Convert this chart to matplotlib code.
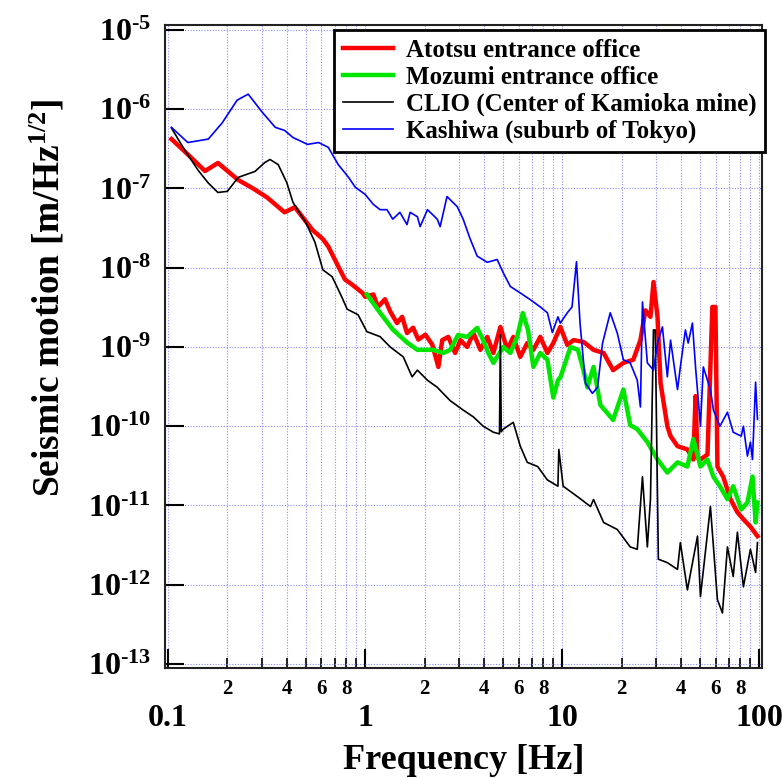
import matplotlib
matplotlib.use("Agg")
import matplotlib.pyplot as plt
from matplotlib.ticker import FixedLocator, FixedFormatter, NullLocator

plt.rcParams["font.family"] = "Liberation Serif"
plt.rcParams["font.weight"] = "bold"
plt.rcParams["mathtext.fontset"] = "custom"
plt.rcParams["mathtext.rm"] = "Liberation Serif:bold"
plt.rcParams["mathtext.bf"] = "Liberation Serif:bold"
plt.rcParams["mathtext.it"] = "Liberation Serif:bold"

# (frequency [Hz], amplitude [m/Hz^1/2])
atotsu = [
    (0.104, 4.2e-7), (0.122, 2.9e-7), (0.154, 1.66e-7), (0.179, 2.1e-7),
    (0.227, 1.28e-7), (0.27, 1.0e-7), (0.318, 7.7e-8), (0.39, 5.0e-8),
    (0.44, 5.8e-8), (0.54, 3.0e-8), (0.61, 2.3e-8), (0.65, 1.85e-8),
    (0.73, 1.04e-8), (0.79, 7.1e-9), (0.86, 6.1e-9), (0.97, 4.8e-9),
    (1.0, 4.3e-9), (1.1, 4.6e-9), (1.16, 3.2e-9), (1.26, 4.0e-9),
    (1.34, 2.8e-9), (1.45, 2.0e-9), (1.54, 2.4e-9), (1.63, 1.5e-9),
    (1.75, 1.75e-9), (1.86, 1.24e-9), (2.02, 1.43e-9), (2.19, 1.07e-9),
    (2.35, 5.6e-10), (2.46, 1.22e-9), (2.64, 1.34e-9), (2.86, 8.4e-10),
    (3.04, 1.22e-9), (3.29, 1.0e-9), (3.54, 1.5e-9), (3.84, 9.2e-10),
    (4.16, 1.34e-9), (4.47, 8.4e-10), (4.85, 1.79e-9), (5.26, 9.2e-10),
    (5.64, 1.34e-9), (6.12, 7.5e-10), (6.64, 1.12e-9), (7.13, 9.2e-10),
    (7.73, 1.34e-9), (8.4, 8.4e-10), (9.0, 1.12e-9), (9.77, 1.79e-9),
    (10.6, 1.06e-9), (11.4, 1.22e-9), (12.8, 1.16e-9), (14.4, 9.2e-10),
    (16.2, 8.4e-10), (18.1, 5.1e-10), (20.4, 6.3e-10), (22.9, 6.9e-10),
    (24.9, 1.22e-9), (26.4, 2.9e-9), (28.0, 2.4e-9), (29.0, 6.6e-9),
    (30.4, 2.4e-9), (31.5, 3.5e-10), (34.1, 1.0e-10), (35.4, 7.5e-11),
    (38.4, 5.6e-11), (43.1, 5.1e-11), (46.2, 3.8e-11), (47.4, 2.4e-10),
    (48.5, 4.0e-11), (50.2, 3.8e-11), (54.5, 4.4e-11), (57.7, 3.2e-9),
    (59.8, 3.2e-9), (61.2, 3.1e-11), (65.5, 2.3e-11), (71.3, 1.2e-11),
    (77.3, 8.2e-12), (82.9, 6.7e-12), (90.0, 5.4e-12), (97.7, 4.1e-12),
]

mozumi = [
    (1.02, 4.6e-9), (1.19, 2.7e-9), (1.38, 1.66e-9), (1.63, 1.14e-9),
    (1.84, 9.2e-10), (2.21, 9.2e-10), (2.49, 8.4e-10), (2.7, 9.2e-10),
    (2.96, 1.42e-9), (3.29, 1.34e-9), (3.7, 1.74e-9), (3.97, 1.22e-9),
    (4.21, 8.4e-10), (4.47, 6.3e-10), (5.02, 1.0e-9), (5.45, 8.4e-10),
    (5.9, 1.34e-9), (6.3, 2.68e-9), (6.7, 1.64e-9), (7.13, 5.6e-10),
    (7.73, 8.4e-10), (8.4, 6.9e-10), (9.0, 2.3e-10), (9.5, 3.8e-10),
    (9.8, 4.2e-10), (11.0, 1.0e-9), (12.0, 9.2e-10), (12.8, 5.1e-10),
    (13.4, 3.1e-10), (14.4, 5.6e-10), (15.6, 1.85e-10), (16.9, 1.47e-10),
    (18.1, 1.2e-10), (20.4, 2.9e-10), (22.1, 1.03e-10), (24.0, 9.2e-11),
    (27.0, 6.3e-11), (30.4, 3.8e-11), (34.1, 2.6e-11), (38.4, 3.5e-11),
    (43.1, 3.1e-11), (46.2, 6.9e-11), (50.2, 3.1e-11), (54.5, 3.8e-11),
    (58.4, 2.3e-11), (63.0, 1.75e-11), (68.8, 1.2e-11), (73.6, 1.75e-11),
    (80.8, 8.9e-12), (86.9, 1.09e-11), (92.2, 2.32e-11), (95.6, 6.1e-12),
    (97.7, 1.09e-11),
]

clio = [
    (0.104, 5.8e-7), (0.122, 3.0e-7), (0.142, 1.7e-7), (0.16, 1.17e-7),
    (0.179, 8.9e-8), (0.20, 9.2e-8), (0.227, 1.38e-7), (0.276, 1.64e-7),
    (0.31, 2.13e-7), (0.329, 2.32e-7), (0.362, 2.0e-7), (0.40, 1.19e-7),
    (0.43, 6.7e-8), (0.50, 3.7e-8), (0.556, 2.1e-8), (0.61, 9.4e-9),
    (0.68, 7.7e-9), (0.76, 4.3e-9), (0.81, 3.0e-9), (0.92, 2.55e-9),
    (1.02, 1.56e-9), (1.19, 1.35e-9), (1.34, 1.0e-9), (1.56, 7.5e-10),
    (1.73, 4.2e-10), (1.84, 5.1e-10), (2.07, 3.8e-10), (2.32, 3.1e-10),
    (2.7, 2.1e-10), (3.14, 1.6e-10), (3.54, 1.31e-10), (3.97, 1.0e-10),
    (4.47, 8.4e-11), (4.8, 8.0e-11), (4.85, 1.42e-9), (4.9, 8.5e-11),
    (5.02, 9.2e-11), (5.64, 1.12e-10), (6.12, 5.6e-11), (6.64, 3.5e-11),
    (7.5, 3.1e-11), (8.4, 2.1e-11), (9.5, 1.75e-11), (9.6, 5.1e-11),
    (10.1, 1.75e-11), (11.9, 1.3e-11), (13.9, 9.7e-12), (14.4, 1.19e-11),
    (16.2, 6.1e-12), (19.0, 4.98e-12), (22.1, 3.0e-12), (24.0, 2.8e-12),
    (25.5, 2.3e-11), (27.0, 3.0e-12), (28.0, 1.2e-11), (29.0, 1.64e-9),
    (29.6, 1.64e-9), (30.7, 2.1e-12), (34.1, 1.9e-12), (38.4, 1.56e-12),
    (39.7, 3.4e-12), (43.1, 8.6e-13), (48.5, 4.1e-12), (50.2, 7.1e-13),
    (56.4, 9.7e-12), (61.2, 6.5e-13), (64.9, 4.4e-13), (68.8, 3.0e-12),
    (73.6, 1.27e-12), (77.3, 4.6e-12), (82.9, 9.4e-13), (90.0, 2.8e-12),
    (95.6, 1.43e-12), (97.7, 3.4e-12),
]

kashiwa = [
    (0.104, 5.9e-7), (0.126, 3.8e-7), (0.16, 4.2e-7), (0.188, 6.7e-7),
    (0.224, 1.3e-6), (0.255, 1.55e-6), (0.30, 9.2e-7), (0.35, 5.9e-7),
    (0.39, 5.4e-7), (0.43, 4.4e-7), (0.51, 3.6e-7), (0.58, 3.8e-7),
    (0.65, 3.3e-7), (0.73, 2.0e-7), (0.82, 1.4e-7), (0.89, 1.04e-7),
    (1.0, 8.4e-8), (1.1, 6.3e-8), (1.19, 5.4e-8), (1.29, 5.4e-8),
    (1.38, 4.1e-8), (1.5, 5.0e-8), (1.63, 3.5e-8), (1.69, 5.0e-8),
    (1.84, 4.4e-8), (1.9, 3.3e-8), (2.07, 5.4e-8), (2.32, 4.1e-8),
    (2.4, 3.3e-8), (2.6, 7.9e-8), (2.93, 5.9e-8), (3.14, 4.1e-8),
    (3.41, 2.3e-8), (3.7, 1.4e-8), (4.16, 1.17e-8), (4.67, 1.27e-8),
    (5.02, 8.6e-9), (5.45, 5.8e-9), (6.12, 4.8e-9), (6.88, 3.95e-9),
    (7.73, 3.2e-9), (8.4, 2.7e-9), (8.9, 1.52e-9), (9.5, 2.4e-9),
    (9.77, 2.0e-9), (10.6, 2.7e-9), (11.2, 3.2e-9), (11.8, 1.19e-8),
    (12.3, 2.0e-9), (13.1, 3.5e-10), (14.2, 2.6e-10), (15.1, 3.1e-10),
    (16.0, 1.12e-9), (17.5, 2.7e-9), (19.0, 1.5e-9), (20.4, 6.9e-10),
    (22.1, 6.3e-10), (24.0, 3.8e-10), (24.9, 1.75e-10), (25.5, 3.7e-9),
    (27.0, 6.3e-10), (29.0, 5.1e-10), (30.4, 1.12e-9), (32.2, 1.79e-9),
    (34.1, 4.2e-10), (35.4, 1.22e-9), (38.4, 2.9e-10), (39.7, 5.6e-10),
    (42.1, 1.64e-9), (43.5, 1.12e-9), (45.7, 2.0e-9), (47.4, 5.6e-10),
    (50.2, 1.0e-10), (51.9, 5.6e-10), (56.4, 2.9e-10), (58.4, 1.6e-10),
    (63.0, 1.0e-10), (68.8, 1.5e-10), (73.6, 8.4e-11), (80.8, 7.5e-11),
    (82.9, 1.0e-10), (86.9, 4.2e-11), (90.0, 6.3e-11), (92.2, 3.8e-11),
    (95.6, 3.6e-10), (97.7, 1.22e-10),
]

x_major = [0.1, 1, 10, 100]
x_major_labels = ["0.1", "1", "10", "100"]
x_minor = [m * d for d in (0.1, 1, 10) for m in range(2, 10)]
x_minor_labels = [str(m) if m in (2, 4, 6, 8) else "" for d in (0.1, 1, 10) for m in range(2, 10)]
y_major = [10.0 ** e for e in range(-13, -4)]
# plain hyphen in the exponent, as in the original figure
y_major_labels = ["$10^{\u2010%d}$" % -e for e in range(-13, -4)]

fig = plt.figure(figsize=(7.82, 7.78), dpi=100)
ax = fig.add_axes([0.211, 0.1414, 0.7634, 0.8265])

ax.plot(*zip(*atotsu), color="#ff0000", lw=3.2, label="Atotsu entrance office")
ax.plot(*zip(*mozumi), color="#00e600", lw=3.2, label="Mozumi entrance office")
ax.plot(*zip(*clio), color="black", lw=1.2, label="CLIO (Center of Kamioka mine)")
ax.plot(*zip(*kashiwa), color="#0000ff", lw=1.2, label="Kashiwa (suburb of Tokyo)")

ax.set_xscale("log")
ax.set_yscale("log")
ax.set_xlim(0.0965, 103)
ax.set_ylim(0.89e-13, 1.156e-5)

ax.xaxis.set_major_locator(FixedLocator(x_major))
ax.xaxis.set_major_formatter(FixedFormatter(x_major_labels))
ax.xaxis.set_minor_locator(FixedLocator(x_minor))
ax.xaxis.set_minor_formatter(FixedFormatter(x_minor_labels))
ax.yaxis.set_major_locator(FixedLocator(y_major))
ax.yaxis.set_major_formatter(FixedFormatter(y_major_labels))
ax.yaxis.set_minor_locator(NullLocator())

ax.tick_params(which="major", direction="in", length=14, width=1.5, labelsize=23)
ax.tick_params(axis="x", which="major", pad=26)
ax.tick_params(axis="y", which="major", pad=10)
ax.tick_params(axis="x", which="minor", direction="in", length=7, width=1.2,
               labelsize=15, pad=8)

gkw = dict(color="#8c8cff", linestyle=(0, (1, 1.5)), linewidth=0.8)
ax.grid(True, which="both", axis="x", **gkw)
ax.grid(True, which="major", axis="y", **gkw)
ax.set_axisbelow(True)

for s in ax.spines.values():
    s.set_linewidth(1.5)
    s.set_color("#222222")

ax.set_xlabel("Frequency [Hz]", fontsize=26, fontweight="bold")
ax.set_ylabel(r"Seismic motion [m/Hz$^{1/2}$]", fontsize=27, fontweight="bold")
ax.xaxis.set_label_coords(0.5, -0.118)
ax.yaxis.set_label_coords(-0.163, 0.575)

leg = ax.legend(loc="upper right", bbox_to_anchor=(1.005, 0.992), fontsize=18,
                fancybox=False, edgecolor="black", framealpha=1,
                borderaxespad=0, labelspacing=0.15, handlelength=2.0,
                handletextpad=0.5, borderpad=0.35)
leg.get_frame().set_linewidth(2)

fig.savefig("out.png", dpi=100)
